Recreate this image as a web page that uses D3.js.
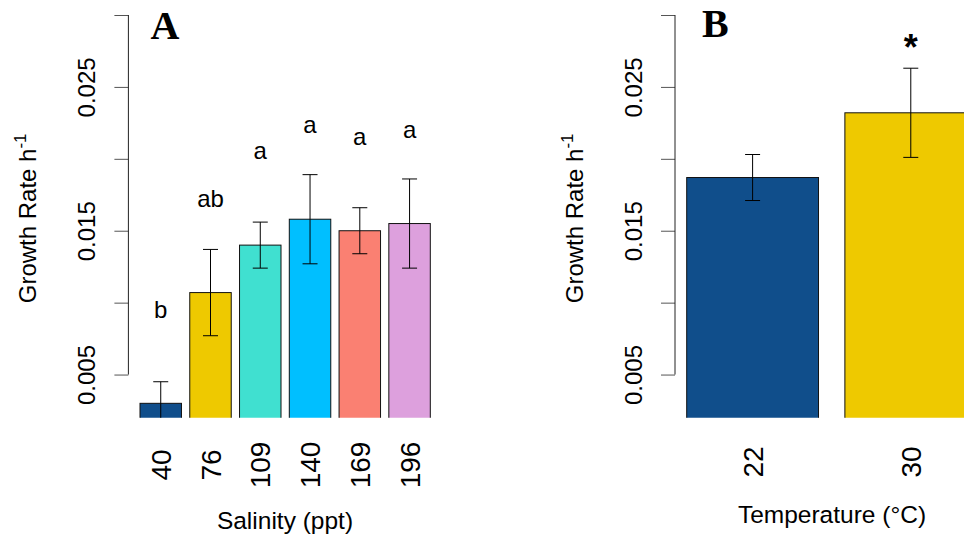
<!DOCTYPE html>
<html>
<head>
<meta charset="utf-8">
<script src="https://cdn.jsdelivr.net/npm/d3@7"></script>
<style>
  body { margin: 0; background: #fff; }
  text { font-family: "Liberation Sans", Arial, sans-serif; fill: #000; }
</style>
</head>
<body>
<div id="container"></div>
<script>
/* DATA */
// panel A - salinity
const salinity = ["40", "76", "109", "140", "169", "196"];
const salinityMean = [0.0030, 0.0107, 0.0140, 0.0158, 0.0150, 0.0155];
const salinitySE = [0.0015, 0.0030, 0.0016, 0.0031, 0.0016, 0.0031];
const salinityLetters = ["b", "ab", "a", "a", "a", "a"];

// panel B - temperature
const temperature = ["22", "30"];
const tempMean = [0.0187, 0.0232];
const tempSE = [0.0016, 0.0031];
const tempLetters = ["", "*"];

// y axis
const yTicks = [0.005, 0.010, 0.015, 0.020, 0.025, 0.030];
const yTickLabels = ["0.005", "", "0.015", "", "0.025", ""];

/* COLORS */
const salinityColors = ["#104E8B", "#EEC900", "#40E0D0", "#00BFFF", "#FA8072", "#DDA0DD"];
const tempColors = ["#104E8B", "#EEC900"];

/* CONSTANTS */
const width = 964;
const height = 535;
const plotTop = 15;
const plotBottom = 417.7;

const svg = d3.select("#container")
  .append("svg")
  .attr("width", width)
  .attr("height", height);

// shared y scale
const yScale = d3.scaleLinear()
  .domain([0.002, 0.030])
  .range([plotBottom, plotTop]);

function drawPanel(cfg) {
  const g = svg.append("g");

  // x scale - band, like R barplot with space = 0.2
  const xScale = d3.scaleBand()
    .domain(cfg.cats)
    .range(cfg.barRange)
    .paddingInner(0.2 / 1.2)
    .paddingOuter(0);

  const rows = cfg.cats.map((c, i) => ({
    cat: c, mean: cfg.mean[i], se: cfg.se[i], color: cfg.colors[i], letter: cfg.letters[i]
  }));

  // clip to plot region
  g.append("clipPath")
    .attr("id", cfg.id)
    .append("rect")
    .attr("x", cfg.axisX)
    .attr("y", plotTop - 1)
    .attr("width", cfg.plotRight - cfg.axisX)
    .attr("height", plotBottom - plotTop + 1);

  const plot = g.append("g").attr("clip-path", `url(#${cfg.id})`);

  // bars (drawn from below the plot so the bottom edge is clipped away)
  plot.selectAll("rect.bar")
    .data(rows)
    .join("rect")
    .attr("class", "bar")
    .attr("x", d => xScale(d.cat))
    .attr("y", d => yScale(d.mean))
    .attr("width", xScale.bandwidth())
    .attr("height", d => plotBottom + 10 - yScale(d.mean))
    .attr("fill", d => d.color)
    .attr("stroke", "#111")
    .attr("stroke-width", 1);

  // error bars
  const eb = plot.selectAll("g.err")
    .data(rows)
    .join("g")
    .attr("class", "err")
    .attr("stroke", "#000")
    .attr("stroke-width", 1)
    .attr("fill", "none");

  const cx = d => xScale(d.cat) + xScale.bandwidth() / 2;
  eb.append("line")
    .attr("x1", cx).attr("x2", cx)
    .attr("y1", d => yScale(d.mean - d.se))
    .attr("y2", d => yScale(d.mean + d.se));
  eb.append("line")
    .attr("x1", d => cx(d) - 7.5).attr("x2", d => cx(d) + 7.5)
    .attr("y1", d => yScale(d.mean + d.se))
    .attr("y2", d => yScale(d.mean + d.se));
  eb.append("line")
    .attr("x1", d => cx(d) - 7.5).attr("x2", d => cx(d) + 7.5)
    .attr("y1", d => yScale(d.mean - d.se))
    .attr("y2", d => yScale(d.mean - d.se));

  // significance letters
  g.selectAll("text.sig")
    .data(rows.filter(d => d.letter))
    .join("text")
    .attr("class", "sig")
    .attr("x", cx)
    .attr("y", d => yScale(d.mean + cfg.letterOffset))
    .attr("dy", cfg.letterDy)
    .attr("text-anchor", "middle")
    .style("font-size", cfg.letterSize)
    .style("font-weight", cfg.letterWeight)
    .text(d => d.letter);

  // y axis
  const yAxis = d3.axisLeft(yScale)
    .tickValues(yTicks)
    .tickFormat((d, i) => yTickLabels[i])
    .tickSize(14)
    .tickSizeOuter(0);

  const ax = g.append("g")
    .attr("transform", `translate(${cfg.axisX},0)`)
    .call(yAxis);
  ax.select(".domain").remove();
  ax.append("line")
    .attr("x1", 0).attr("x2", 0)
    .attr("y1", yScale(yTicks[0]))
    .attr("y2", yScale(yTicks[yTicks.length - 1]))
    .attr("stroke", "#222");
  ax.selectAll(".tick line").attr("stroke", "#555");
  ax.selectAll(".tick text")
    .attr("x", 0)
    .attr("y", -33.4)
    .attr("dy", 0)
    .attr("transform", "rotate(-90)")
    .attr("text-anchor", "middle")
    .style("font-family", "'Liberation Sans', Arial, sans-serif")
    .style("font-size", "24px")
    .attr("fill", "#000");

  // x tick labels (rotated, las = 2)
  const xAxis = d3.axisBottom(xScale).tickSize(0);
  const xa = g.append("g")
    .attr("transform", `translate(0,${cfg.xLabelY})`)
    .call(xAxis);
  xa.select(".domain").remove();
  xa.selectAll(".tick text")
    .attr("x", 0)
    .attr("y", 0)
    .attr("dy", 0)
    .attr("transform", "translate(10,0) rotate(-90)")
    .attr("text-anchor", "middle")
    .style("font-family", "'Liberation Sans', Arial, sans-serif")
    .style("font-size", "28px")
    .attr("fill", "#000");

  // x title
  g.append("text")
    .attr("x", cfg.xTitleX)
    .attr("y", cfg.xTitleY)
    .attr("text-anchor", "middle")
    .style("font-size", "24.5px")
    .text(cfg.xTitle);

  // y title with superscript
  const yt = g.append("text")
    .attr("transform", `translate(${cfg.yTitleX},${(plotTop + plotBottom) / 2 + 2}) rotate(-90)`)
    .attr("text-anchor", "middle")
    .style("font-size", "24px");
  yt.append("tspan").text("Growth Rate h");
  yt.append("tspan").attr("dy", -10).style("font-size", "17px").text("-1");

  // panel letter
  g.append("text")
    .attr("x", cfg.panelX)
    .attr("y", cfg.panelY)
    .style("font-family", "'Liberation Serif', 'Times New Roman', serif")
    .style("font-weight", "bold")
    .style("font-size", "40px")
    .text(cfg.panel);
}

drawPanel({
  id: "clipA",
  cats: salinity, mean: salinityMean, se: salinitySE,
  colors: salinityColors, letters: salinityLetters,
  barRange: [140, 430.3],
  axisX: 128.4, plotRight: 441.4,
  letterOffset: 0.0065, letterDy: "0.32em", letterSize: "24px", letterWeight: "normal",
  xLabelY: 465,
  xTitle: "Salinity (ppt)", xTitleX: 285, xTitleY: 529,
  yTitleX: 36,
  panel: "A", panelX: 150.5, panelY: 39.3
});

drawPanel({
  id: "clipB",
  cats: temperature, mean: tempMean, se: tempSE,
  colors: tempColors, letters: tempLetters,
  barRange: [686.7, 976.7],
  axisX: 675, plotRight: 988.7,
  letterOffset: 0.0049, letterDy: "0.5em", letterSize: "36px", letterWeight: "bold",
  xLabelY: 462,
  xTitle: "Temperature (\u00B0C)", xTitleX: 832, xTitleY: 523.3,
  yTitleX: 582.7,
  panel: "B", panelX: 702, panelY: 36.5
});
</script>
</body>
</html>
